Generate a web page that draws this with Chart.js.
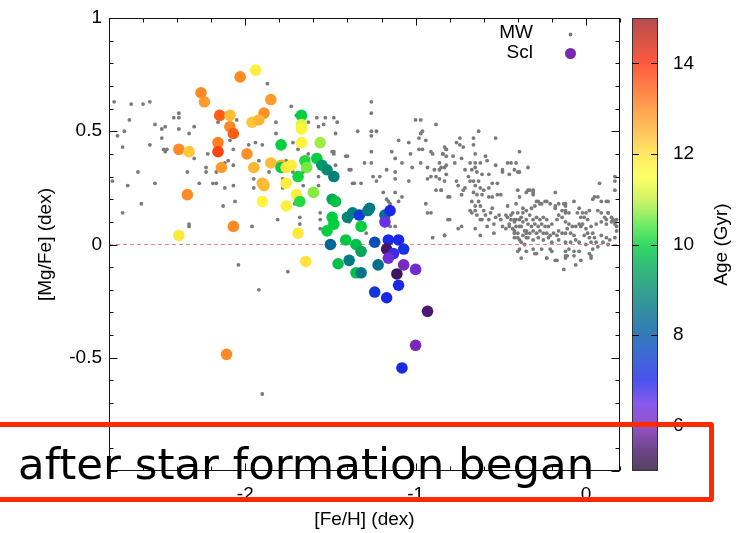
<!DOCTYPE html>
<html>
<head>
<meta charset="utf-8">
<script src="https://cdn.jsdelivr.net/npm/chart.js@4/dist/chart.umd.min.js"></script>
<style>
  html, body { margin: 0; padding: 0; background: #fff; overflow: hidden; }
  #wrap { position: relative; width: 756px; height: 533px; }
  #plot { position: absolute; left: 0; top: 0; }
  #note {
    position: absolute; left: -20px; top: 422px; width: 724px; height: 70px;
    border: 5px solid #ff2a00; border-radius: 3px; pointer-events: none;
  }
  #noteText {
    position: absolute; left: 18px; top: 443px; white-space: nowrap;
    font-family: "Comic Sans MS", "DejaVu Sans", sans-serif; font-size: 43.5px;
    line-height: 1; color: #000; pointer-events: none;
  }
</style>
</head>
<body>
<div id="wrap">
  <canvas id="plot" width="756" height="533"></canvas>
  <div id="note"></div>
  <div id="noteText">after star formation began</div>
</div>
<script>
// ---- axis ticks ----
const xTickLabels = [-2, -1, 0];
const yTickLabels = [-0.5, 0, 0.5, 1];
const ageTickLabels = [6, 8, 10, 12, 14];
const xRange = [-2.8, 0.2];
const yRange = [-1, 1];
const ageRange = [5, 15];

// ---- Milky Way field stars: [Fe/H], [Mg/Fe] ----
const mwStars = [
  [-2.77,0.63],[-2.67,0.62],[-2.60,0.62],[-2.56,0.63],[-2.68,0.55],[-2.71,0.50],[-2.75,0.48],[-2.39,0.58],[-2.42,0.56],[-2.39,0.56],
  [-2.53,0.53],[-2.49,0.51],[-2.47,0.52],[-2.39,0.51],[-2.33,0.49],[-2.30,0.52],[-2.49,0.47],[-2.56,0.44],[-2.72,0.43],[-2.48,0.42],
  [-2.47,0.41],[-2.46,0.42],[-2.30,0.38],[-2.63,0.32],[-2.34,0.32],[-2.23,0.34],[-2.23,0.32],[-2.17,0.32],[-2.22,0.40],[-2.12,0.36],
  [-2.10,0.37],[-2.07,0.42],[-2.09,0.46],[-2.16,0.54],[-2.11,0.52],[-2.05,0.55],[-2.07,0.35],[-2.27,0.27],[-2.19,0.27],[-2.17,0.27],
  [-2.53,0.27],[-2.69,0.26],[-2.12,0.25],[-2.07,0.26],[-2.61,0.18],[-2.72,0.14],[-2.33,0.09],[-2.33,0.08],[-2.13,0.17],[-2.06,0.19],
  [-2.78,0.28],
  [-1.87,0.71],[-1.73,0.61],[-1.82,0.54],[-1.82,0.49],[-1.98,0.44],[-1.94,0.45],[-1.90,0.44],[-1.72,0.45],[-1.70,0.57],[-1.63,0.54],
  [-1.58,0.56],[-1.53,0.56],[-1.48,0.56],[-1.46,0.54],[-1.57,0.52],[-1.47,0.49],[-1.54,0.53],[-1.63,0.40],[-1.49,0.41],[-1.48,0.41],
  [-1.48,0.40],[-1.40,0.39],[-1.47,0.35],[-1.39,0.33],[-1.36,0.27],[-1.57,0.30],[-1.57,0.26],[-1.66,0.26],[-1.71,0.18],[-1.68,0.12],
  [-1.68,0.09],[-1.56,0.14],[-1.56,0.11],[-1.56,0.07],[-1.81,0.11],[-1.96,0.08],[-1.92,0.37],[-1.95,0.29],[-1.95,0.25],[-1.86,0.32],
  [-1.76,0.37],[-1.72,0.32],[-1.66,0.32],[-1.78,0.29],[-1.78,0.25],[-1.69,0.42],
  [-2.04,-0.09],[-1.75,-0.12],[-1.92,-0.20],[-1.90,-0.66],
  [-1.26,0.63],[-1.26,0.58],[-1.34,0.50],[-1.26,0.50],[-1.23,0.50],[-1.26,0.48],[-1.26,0.41],[-1.26,0.36],[-1.30,0.36],[-1.41,0.39],
  [-1.38,0.33],[-1.37,0.27],[-1.32,0.27],[-1.25,0.30],[-1.21,0.30],[-1.23,0.28],[-1.17,0.33],[-1.14,0.41],[-1.12,0.38],[-1.10,0.46],
  [-1.12,0.32],[-1.12,0.29],[-1.08,0.36],[-1.04,0.45],[-1.04,0.28],[-1.03,0.40],[-1.02,0.34],[-1.00,0.55],[-0.97,0.55],[-0.98,0.47],
  [-0.97,0.49],[-0.96,0.50],[-0.94,0.46],[-0.88,0.53],[-0.98,0.42],[-0.96,0.42],[-0.97,0.36],[-0.93,0.34],[-0.93,0.29],[-0.91,0.30],
  [-0.91,0.41],[-0.90,0.40],[-0.89,0.33],[-0.86,0.33],[-0.88,0.30],[-0.86,0.29],[-0.88,0.24],[-0.85,0.24],[-0.86,0.36],[-0.84,0.40],
  [-0.83,0.43],[-0.82,0.42],[-0.83,0.34],[-0.82,0.35],[-0.81,0.21],[-1.19,0.23],[-1.17,0.20],[-1.16,0.19],[-1.12,0.23],[-1.08,0.21],
  [-1.10,0.19],[-1.15,0.18],[-0.94,0.18],[-0.93,0.14],[-0.91,0.14],[-0.81,0.11],[-1.15,0.08],[-1.12,0.08],[-1.29,0.05],[-0.90,0.03],
  [-0.83,0.04],[-1.39,0.10],
  [-0.63,0.50],[-0.74,0.47],[-0.76,0.45],[-0.74,0.44],[-0.72,0.43],[-0.66,0.47],[-0.66,0.44],[-0.53,0.47],[-0.82,0.42],[-0.84,0.40],
  [-0.82,0.39],[-0.78,0.39],[-0.77,0.36],[-0.73,0.38],[-0.65,0.40],[-0.59,0.39],[-0.58,0.37],[-0.62,0.36],[-0.68,0.36],[-0.65,0.36],
  [-0.71,0.33],[-0.67,0.33],[-0.65,0.34],[-0.64,0.32],[-0.39,0.41],[-0.44,0.36],[-0.41,0.36],[-0.46,0.36],[-0.53,0.35],[-0.49,0.33],
  [-0.49,0.32],[-0.45,0.31],[-0.42,0.33],[-0.39,0.32],[-0.57,0.31],[-0.61,0.31],[-0.85,0.34],[-0.82,0.31],[-0.83,0.28],[-0.85,0.24],
  [-0.76,0.28],[-0.75,0.26],[-0.69,0.30],[-0.68,0.28],[-0.66,0.28],[-0.65,0.26],[-0.63,0.28],[-0.62,0.25],[-0.60,0.24],[-0.55,0.27],
  [-0.52,0.27],[-0.57,0.25],[-0.71,0.25],[-0.72,0.24],[-0.73,0.22],[-0.80,0.21],[-0.66,0.23],[-0.64,0.22],[-0.61,0.22],[-0.57,0.21],
  [-0.55,0.21],[-0.52,0.22],[-0.50,0.22],[-0.67,0.19],[-0.63,0.19],[-0.65,0.17],[-0.62,0.17],[-0.68,0.15],[-0.65,0.15],[-0.60,0.15],
  [-0.55,0.16],[-0.56,0.14],[-0.59,0.13],[-0.61,0.11],[-0.64,0.13],[-0.67,0.14],[-0.53,0.12],[-0.51,0.13],[-0.47,0.13],[-0.44,0.13],
  [-0.46,0.17],[-0.41,0.18],[-0.39,0.21],[-0.40,0.24],[-0.35,0.23],[-0.37,0.16],[-0.57,0.11],[-0.54,0.09],[-0.58,0.08],[-0.62,0.11],
  [-0.65,0.07],[-0.75,0.07],[-0.73,0.08],[-0.80,0.11],[-0.83,0.04],[-0.62,0.04],[-0.50,0.11],[-0.49,0.08],[-0.47,0.07],[-0.45,0.09],
  [-0.54,0.05],[-0.42,0.06],[-0.42,0.11],[-0.39,0.08],[-0.40,0.03],[-0.38,0.01],[-0.40,-0.03],[-0.38,-0.06],
  [-0.46,0.12],[-0.44,0.11],[-0.42,0.10],[-0.41,0.11],[-0.39,0.11],[-0.37,0.10],[-0.35,0.11],[-0.45,0.08],[-0.43,0.07],[-0.41,0.08],
  [-0.38,0.08],[-0.36,0.06],[-0.42,0.05],[-0.40,0.05],[-0.37,0.04],[-0.35,0.05],[-0.42,0.03],[-0.39,0.02],[-0.36,0.00],[-0.35,0.03],
  [-0.43,0.14],[-0.40,0.14],[-0.37,0.14],[-0.35,0.15],[-0.38,0.12],
  [-0.34,0.34],[-0.34,0.24],[-0.31,0.24],[-0.31,0.22],[-0.29,0.19],[-0.27,0.18],[-0.24,0.19],[-0.21,0.18],[-0.32,0.16],[-0.30,0.17],
  [-0.33,0.13],[-0.31,0.11],[-0.29,0.12],[-0.27,0.11],[-0.25,0.12],[-0.23,0.11],[-0.34,0.09],[-0.32,0.08],[-0.30,0.09],[-0.28,0.08],
  [-0.26,0.09],[-0.24,0.08],[-0.22,0.08],[-0.20,0.09],[-0.35,0.06],[-0.33,0.05],[-0.31,0.06],[-0.29,0.05],[-0.27,0.06],[-0.25,0.05],
  [-0.23,0.05],[-0.21,0.04],[-0.19,0.05],[-0.17,0.04],[-0.34,0.03],[-0.31,0.02],[-0.28,0.03],[-0.25,0.02],[-0.22,0.03],[-0.20,0.01],
  [-0.31,-0.02],[-0.26,-0.02],[-0.21,-0.02],[-0.29,-0.04],[-0.23,-0.06],[-0.20,-0.03],[-0.18,-0.07],[-0.17,-0.07],[-0.13,-0.11],[-0.18,0.23],
  [-0.18,0.17],[-0.18,0.16],[-0.16,0.18],[-0.12,0.18],[-0.14,0.15],[-0.12,0.15],[-0.10,0.14],[-0.16,0.13],[-0.14,0.12],[-0.17,0.11],
  [-0.12,0.10],[-0.10,0.09],[-0.08,0.08],[-0.06,0.08],[-0.04,0.09],[-0.11,0.07],[-0.16,0.06],[-0.14,0.05],[-0.12,0.05],[-0.09,0.05],
  [-0.07,0.04],[-0.16,0.02],[-0.12,0.01],[-0.09,0.01],[-0.06,0.02],[-0.04,0.01],[-0.12,-0.03],[-0.10,-0.02],[-0.07,-0.03],[-0.04,-0.03],
  [-0.12,-0.06],[-0.11,-0.05],[-0.06,-0.09],[-0.04,0.16],[-0.02,0.14],[0.00,0.14],[0.02,0.15],[-0.01,0.12],[0.01,0.11],[-0.02,0.09],
  [-0.03,0.08],[0.00,0.07],[0.03,0.08],[0.04,0.05],[0.01,0.05],[-0.01,0.04],[0.02,0.03],[0.05,0.03],[0.00,0.00],[0.03,0.01],
  [0.06,0.01],[0.04,-0.02],[0.07,-0.01],[0.02,-0.04],[0.03,-0.06],[0.05,0.21],[0.07,0.21],[0.08,0.27],[0.07,0.15],[0.09,0.14],
  [0.11,0.12],[0.13,0.14],[0.13,0.19],[0.06,0.09],[0.09,0.10],[0.12,0.09],[0.15,0.10],[0.16,0.11],[0.17,0.10],[0.18,0.08],
  [0.18,0.06],[0.09,0.04],[0.12,0.03],[0.14,0.02],[0.17,0.03],[0.10,0.01],[0.13,0.00],[0.17,0.30],[0.17,0.28],[0.17,0.24],
  [-0.40,0.32],[-0.33,0.24],[-0.31,0.23],[-0.28,0.19],[-0.26,0.18],[-0.23,0.19],[-0.13,0.18],[-0.12,0.17],[-0.12,0.14],[-0.07,0.19],
  [-0.05,0.14],[-0.03,0.12],[0.04,0.20],[0.09,0.19],[0.12,0.19],[0.13,0.14],[0.15,0.12],[0.12,0.11],[0.17,0.09],[0.18,0.11],
  [-0.39,-0.02],[-0.35,-0.03],[-0.30,-0.04],[-0.23,-0.06],[-0.12,-0.05],[-0.07,-0.05],[-0.03,-0.07],[0.03,-0.05]
];

// ---- Sculptor stars: [Fe/H], [Mg/Fe], age (Gyr) ----
const sclStars = [
  [-1.94,0.77,11.8],[-2.03,0.74,13.0],[-2.26,0.67,13.0],[-2.24,0.63,12.8],[-1.85,0.64,12.8],[-2.15,0.57,13.5],[-2.09,0.57,12.4],
  [-1.89,0.58,12.9],[-2.09,0.52,13.0],[-2.07,0.49,13.5],[-1.96,0.54,12.3],[-1.92,0.55,12.5],[-1.67,0.57,10.0],[-1.67,0.53,11.2],
  [-1.67,0.51,11.7],[-2.39,0.42,13.0],[-2.33,0.41,12.3],[-2.16,0.45,13.1],[-2.16,0.41,13.8],[-1.99,0.40,12.9],[-1.79,0.44,10.0],
  [-1.67,0.45,11.7],[-1.56,0.45,10.8],[-2.14,0.34,12.8],[-1.95,0.34,12.5],[-1.85,0.36,12.4],[-1.79,0.35,12.6],[-1.79,0.34,10.0],
  [-1.76,0.34,12.0],[-1.73,0.35,11.8],[-1.65,0.37,10.2],[-1.64,0.34,10.6],[-1.58,0.38,10.0],[-1.55,0.35,9.2],[-1.52,0.33,9.0],
  [-1.48,0.30,8.8],[-1.69,0.30,10.1],[-2.34,0.22,13.0],[-1.90,0.27,12.5],[-1.89,0.26,12.4],[-1.76,0.27,11.8],[-1.70,0.22,11.8],
  [-1.68,0.19,10.2],[-1.60,0.23,10.7],[-1.90,0.19,11.7],[-1.76,0.17,11.8],[-1.49,0.20,9.5],[-1.47,0.19,9.8],[-1.40,0.12,8.9],
  [-1.37,0.14,8.8],[-1.33,0.13,7.3],[-1.49,0.12,10.0],[-1.48,0.09,10.0],[-1.52,0.06,10.0],[-2.07,0.08,13.0],[-2.39,0.04,11.9],
  [-1.69,0.05,11.9],[-1.41,0.02,9.9],[-1.50,0.00,8.3],[-1.35,0.00,9.8],[-1.32,0.08,10.0],[-1.28,0.15,8.8],[-1.27,0.16,8.7],
  [-1.18,0.13,8.5],[-1.15,0.15,7.0],[-1.18,0.10,6.5],[-1.32,-0.03,9.5],[-1.24,0.01,7.8],[-1.16,0.02,7.0],[-1.10,0.02,7.0],
  [-1.07,-0.02,7.2],[-1.17,-0.02,5.4],[-1.13,-0.04,6.8],[-1.16,-0.06,6.3],[-1.07,-0.09,6.1],[-1.00,-0.11,6.2],[-1.11,-0.13,5.3],
  [-1.645,-0.075,12.0],[-1.39,-0.07,8.7],[-1.455,-0.085,9.8],[-1.35,-0.125,9.8],[-1.32,-0.125,8.6],[-1.22,-0.09,8.5],
  [-1.24,-0.21,7.3],[-1.17,-0.235,7.0],[-1.10,-0.18,7.0],[-0.93,-0.295,5.5],[-1.00,-0.445,6.0],[-1.08,-0.545,7.0],[-2.11,-0.485,13.0]
];

// ---- age palette (Gyr -> colour) ----
const ageStops = [
  [5.0,'#2a1038'],[5.5,'#4c1870'],[6.0,'#7a28b8'],[6.5,'#6a30e8'],[7.0,'#1c28e8'],[7.5,'#1040d0'],[8.0,'#0058a8'],
  [8.5,'#006f8c'],[9.0,'#008c70'],[9.5,'#00a858'],[10.0,'#00d040'],[10.5,'#5ce840'],[11.0,'#c8f040'],[11.5,'#ffff40'],
  [12.0,'#ffe23c'],[12.5,'#ffb432'],[13.0,'#ff8a24'],[13.5,'#ff5c18'],[14.0,'#ff3010'],[15.0,'#a02020']
];
const zeroLine = [xRange[0], xRange[1]];

function hexRgb(h) { return [1,3,5].map(i => parseInt(h.slice(i, i + 2), 16)); }
function colorForAge(a) {
  if (a <= ageStops[0][0]) return ageStops[0][1];
  for (let i = 1; i < ageStops.length; i++) {
    const [a1, c1] = ageStops[i];
    if (a <= a1) {
      const [a0, c0] = ageStops[i - 1];
      const t = (a - a0) / (a1 - a0);
      const p = hexRgb(c0), q = hexRgb(c1);
      return 'rgb(' + p.map((v, k) => Math.round(v + (q[k] - v) * t)).join(',') + ')';
    }
  }
  return ageStops[ageStops.length - 1][1];
}

const FONT = '"Liberation Sans", Arial, Helvetica, sans-serif';

// keep the plot box fixed: no extra label padding around the axes
function noPad(s) { s.paddingTop = 0; s.paddingBottom = 0; s.paddingLeft = 0; s.paddingRight = 0; }

// frame, inward ticks, colour bar and key
const decor = {
  id: 'decor',
  afterDatasetsDraw(chart) {
    const { ctx, chartArea: ca, scales } = chart;
    const xs = scales.x, ys = scales.y, as = scales.age;
    const L = Math.round(ca.left) + 0.5, R = Math.round(ca.right) - 0.5;
    const T = Math.round(ca.top) + 0.5, B = Math.round(ca.bottom) - 0.5;
    ctx.save();
    ctx.strokeStyle = '#111';
    ctx.lineWidth = 1;
    const seg = (x1, y1, x2, y2) => { ctx.beginPath(); ctx.moveTo(x1, y1); ctx.lineTo(x2, y2); ctx.stroke(); };
    ctx.strokeRect(L, T, R - L, B - T);
    for (let i = 0; i <= 15; i++) {
      const v = xRange[0] + i * 0.2;
      const major = Math.abs(v - Math.round(v)) < 1e-6;
      const len = major ? 7 : 4;
      const px = Math.round(xs.getPixelForValue(v)) + 0.5;
      seg(px, B, px, B - len);
      seg(px, T, px, T + len);
    }
    for (let i = 0; i <= 20; i++) {
      const v = yRange[0] + i * 0.1;
      const major = Math.abs(v * 2 - Math.round(v * 2)) < 1e-6;
      const len = major ? 8 : 4;
      const py = Math.round(ys.getPixelForValue(v)) + 0.5;
      seg(L, py, L + len, py);
      seg(R, py, R - len, py);
    }

    // colour bar
    const bx = Math.round(ca.right) + 12, bw = 26;
    const yTop = as.getPixelForValue(ageRange[1]), yBot = as.getPixelForValue(ageRange[0]);
    const g = ctx.createLinearGradient(0, yBot, 0, yTop);
    ageStops.forEach(([a, c]) => g.addColorStop((a - ageRange[0]) / (ageRange[1] - ageRange[0]), c));
    ctx.globalAlpha = 0.8;
    ctx.fillStyle = g;
    ctx.fillRect(bx, yTop, bw, yBot - yTop);
    ctx.globalAlpha = 1;
    ctx.strokeStyle = '#333';
    ctx.strokeRect(bx + 0.5, Math.round(yTop) + 0.5, bw - 1, Math.round(yBot - yTop) - 1);
    ctx.strokeStyle = '#000';
    ageTickLabels.forEach(v => {
      const py = Math.round(as.getPixelForValue(v)) + 0.5;
      seg(bx, py, bx + 7, py);
      seg(bx + bw, py, bx + bw - 7, py);
    });

    // colour bar title
    ctx.fillStyle = '#000';
    ctx.font = '19px ' + FONT;
    ctx.textAlign = 'center';
    ctx.textBaseline = 'middle';
    ctx.save();
    ctx.translate(722, (yTop + yBot) / 2);
    ctx.rotate(-Math.PI / 2);
    ctx.fillText('Age (Gyr)', 0, 0);
    ctx.restore();

    // key
    ctx.textAlign = 'right';
    ctx.fillText('MW', 533, 33);
    ctx.fillText('Scl', 533, 53);
    ctx.fillStyle = '#7a7a7a';
    ctx.beginPath(); ctx.arc(570.5, 34.5, 1.9, 0, Math.PI * 2); ctx.fill();
    ctx.fillStyle = '#7a28b0';
    ctx.beginPath(); ctx.arc(570.5, 53.5, 5.5, 0, Math.PI * 2); ctx.fill();
    ctx.restore();
  }
};

new Chart(document.getElementById('plot'), {
  type: 'scatter',
  data: {
    datasets: [
      {
        label: 'Scl',
        data: sclStars.map(([x, y]) => ({ x, y })),
        backgroundColor: sclStars.map(s => colorForAge(s[2])),
        borderWidth: 0,
        pointRadius: 5.8,
        order: 0
      },
      {
        type: 'line',
        label: 'zero',
        data: zeroLine.map(x => ({ x, y: 0 })),
        borderColor: 'rgba(214,120,120,0.85)',
        borderWidth: 1,
        borderDash: [4, 3],
        pointRadius: 0,
        fill: false,
        order: 1
      },
      {
        label: 'MW',
        data: mwStars.map(([x, y]) => ({ x, y })),
        backgroundColor: '#7a7a7a',
        borderWidth: 0,
        pointRadius: 1.9,
        order: 2
      }
    ]
  },
  options: {
    responsive: false,
    animation: false,
    devicePixelRatio: 1,
    layout: { padding: { top: 18, left: 0, right: 0, bottom: 0 } },
    plugins: { legend: { display: false }, tooltip: { enabled: false } },
    scales: {
      x: {
        type: 'linear', position: 'bottom', min: xRange[0], max: xRange[1],
        grid: { display: false, drawTicks: false }, border: { display: false },
        afterBuildTicks: s => { s.ticks = xTickLabels.map(v => ({ value: v })); },
        afterFit: s => { s.height = 62; noPad(s); },
        ticks: { color: '#000', font: { family: FONT, size: 19 }, padding: 12, maxRotation: 0,
                 callback: v => String(v) },
        title: { display: true, text: '[Fe/H] (dex)', color: '#000', font: { family: FONT, size: 19 },
                 padding: { top: 0, bottom: 2 } }
      },
      y: {
        type: 'linear', position: 'left', min: yRange[0], max: yRange[1],
        grid: { display: false, drawTicks: false }, border: { display: false },
        afterBuildTicks: s => { s.ticks = yTickLabels.map(v => ({ value: v })); },
        afterFit: s => { s.width = 109; noPad(s); },
        ticks: { color: '#000', font: { family: FONT, size: 19 }, padding: 7,
                 callback: v => String(v) },
        title: { display: true, text: '[Mg/Fe] (dex)', color: '#000', font: { family: FONT, size: 19 },
                 padding: { top: 34, bottom: 0 } }
      },
      age: {
        axis: 'y', type: 'linear', position: 'right', min: ageRange[0], max: ageRange[1],
        grid: { display: false, drawTicks: false }, border: { display: false },
        afterBuildTicks: s => { s.ticks = ageTickLabels.map(v => ({ value: v })); },
        afterFit: s => { s.width = 136; noPad(s); },
        ticks: { color: '#000', font: { family: FONT, size: 19 }, padding: 53,
                 callback: v => String(v) }
      }
    }
  },
  plugins: [decor]
});
</script>
</body>
</html>
